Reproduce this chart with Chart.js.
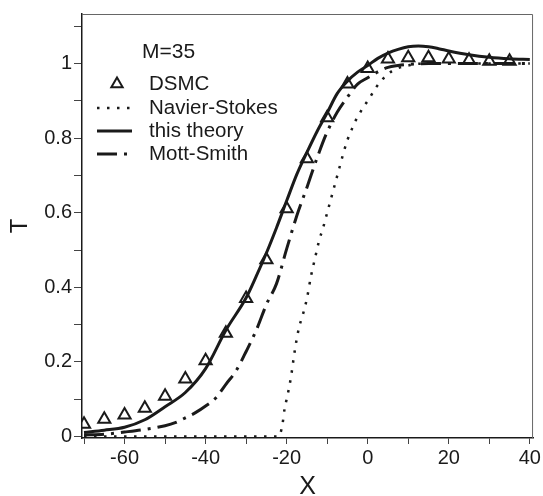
<!DOCTYPE html>
<html>
<head>
<meta charset="utf-8">
<script src="https://cdn.jsdelivr.net/npm/chart.js@4.4.0/dist/chart.umd.min.js"></script>
<style>
  html, body { margin: 0; padding: 0; background: #fff; }
  #wrap { width: 543px; height: 496px; }
</style>
</head>
<body>
<div id="wrap"><canvas id="chart" width="543" height="496"></canvas></div>
<script>
// ===================== DATA =====================
const machLabel = "M=35";

const dsmcX = [-70, -65, -60, -55, -50, -45, -40, -35, -30, -25, -20, -15, -10, -5, 0, 5, 10, 15, 20, 25, 30, 35];
const dsmcT = [0.033, 0.046, 0.058, 0.076, 0.108, 0.154, 0.203, 0.277, 0.370, 0.474, 0.611, 0.745, 0.855, 0.945, 0.987, 1.012, 1.016, 1.016, 1.012, 1.009, 1.006, 1.006];

const theoryX = [-70, -65, -60, -55, -50, -45, -40, -35, -30, -27.5, -25, -22.5, -20, -17.5, -15, -12.5, -10, -7.5, -5, -2.5, 0, 2.5, 5, 7.5, 10, 12.5, 15, 17.5, 20, 25, 30, 35, 40];
const theoryT = [0.011, 0.017, 0.025, 0.045, 0.080, 0.118, 0.182, 0.285, 0.372, 0.430, 0.492, 0.560, 0.632, 0.703, 0.762, 0.818, 0.868, 0.920, 0.953, 0.977, 0.995, 1.014, 1.028, 1.038, 1.045, 1.047, 1.045, 1.040, 1.034, 1.024, 1.017, 1.013, 1.011];

const mottX = [-70, -65, -60, -55, -50, -47.5, -45, -42.5, -40, -37.5, -35, -32.5, -30, -27.5, -25, -22.5, -20, -17.5, -15, -12.5, -10, -7.5, -5, -2.5, 0, 2.5, 5, 7.5, 10, 15, 40];
const mottT = [0.004, 0.006, 0.012, 0.019, 0.029, 0.037, 0.050, 0.064, 0.082, 0.103, 0.140, 0.176, 0.228, 0.285, 0.354, 0.410, 0.503, 0.592, 0.668, 0.747, 0.817, 0.870, 0.910, 0.945, 0.962, 0.978, 0.990, 0.995, 0.998, 1.000, 1.000];

const nsX = [-70, -40, -22, -21.5, -21, -20.5, -20, -19, -18, -17, -16, -15, -14, -13, -12, -11, -10, -9, -8, -7, -6, -5, -4, -3, -2, -1, 0, 2, 4, 6, 8, 10, 12, 15, 40];
const nsT = [0, 0, 0, 0.010, 0.035, 0.075, 0.100, 0.155, 0.230, 0.290, 0.327, 0.370, 0.430, 0.478, 0.525, 0.560, 0.600, 0.640, 0.680, 0.720, 0.760, 0.795, 0.822, 0.847, 0.866, 0.885, 0.900, 0.935, 0.962, 0.980, 0.990, 0.995, 0.999, 1.000, 1.000];

const xTicks = [-70, -60, -50, -40, -30, -20, -10, 0, 10, 20, 30, 40];
const xLabelled = [-60, -40, -20, 0, 20, 40];
const yTicks = [0, 0.1, 0.2, 0.3, 0.4, 0.5, 0.6, 0.7, 0.8, 0.9, 1.0, 1.1];
const yLabelled = [0, 0.2, 0.4, 0.6, 0.8, 1];

const legendNames = ["DSMC", "Navier-Stokes", "this theory", "Mott-Smith"];

// ===================== HELPERS =====================
function pts(xs, ys) {
  return xs.map((x, i) => ({ x, y: ys[i] }));
}

const INK = "#1a1a1a";
const FONT = "'Liberation Sans', Arial, Helvetica, sans-serif";

// frame (top/right edges) drawn over the plot
const framePlugin = {
  id: "frame",
  afterDraw(chart) {
    const { ctx, chartArea: a } = chart;
    ctx.save();
    ctx.strokeStyle = "#666";
    ctx.lineWidth = 1;
    ctx.beginPath();
    ctx.moveTo(a.left, a.top + 0.5);
    ctx.lineTo(a.right - 0.5, a.top + 0.5);
    ctx.lineTo(a.right - 0.5, a.bottom);
    ctx.stroke();
    ctx.restore();
  },
};

// legend inside the plot, styles taken from the datasets
const legendPlugin = {
  id: "innerLegend",
  afterDraw(chart) {
    const { ctx, chartArea: a } = chart;
    const ds = chart.data.datasets;
    const lineX0 = a.left + 15, lineX1 = a.left + 50, textX = a.left + 67;
    const rows = [a.top + 70, a.top + 94, a.top + 117, a.top + 140];
    ctx.save();
    ctx.fillStyle = INK;
    ctx.textBaseline = "middle";
    ctx.font = "21px " + FONT;
    ctx.fillText(machLabel, a.left + 60, a.top + 38);

    legendNames.forEach((name, i) => {
      const d = ds[i];
      const y = rows[i];
      ctx.strokeStyle = INK;
      if (d.showLine === false) {
        const r = 6.5, cx = a.left + 35;
        ctx.lineWidth = 2;
        ctx.beginPath();
        ctx.moveTo(cx, y - r);
        ctx.lineTo(cx + r * 0.87, y + r * 0.5);
        ctx.lineTo(cx - r * 0.87, y + r * 0.5);
        ctx.closePath();
        ctx.stroke();
      } else {
        ctx.lineWidth = d.borderWidth;
        ctx.setLineDash(d.borderDash || []);
        ctx.beginPath();
        ctx.moveTo(lineX0, y);
        ctx.lineTo(lineX1, y);
        ctx.stroke();
        ctx.setLineDash([]);
      }
      ctx.fillStyle = INK;
      ctx.font = "20.5px " + FONT;
      ctx.fillText(name, textX, y);
    });
    ctx.restore();
  },
};

// ===================== CHART =====================
const ctx = document.getElementById("chart");
new Chart(ctx, {
  type: "line",
  data: {
    datasets: [
      {
        label: legendNames[0],
        data: pts(dsmcX, dsmcT),
        showLine: false,
        pointStyle: "triangle",
        pointRadius: 7,
        pointBorderWidth: 2,
        pointBorderColor: INK,
        pointBackgroundColor: "rgba(0,0,0,0)",
        borderColor: INK,
      },
      {
        label: legendNames[1],
        data: pts(nsX, nsT),
        borderColor: INK,
        borderWidth: 2.5,
        borderDash: [2.5, 7.5],
        pointRadius: 0,
        cubicInterpolationMode: "monotone",
      },
      {
        label: legendNames[2],
        data: pts(theoryX, theoryT),
        borderColor: INK,
        borderWidth: 3,
        pointRadius: 0,
        cubicInterpolationMode: "monotone",
      },
      {
        label: legendNames[3],
        data: pts(mottX, mottT),
        borderColor: INK,
        borderWidth: 3,
        borderDash: [20, 7, 3, 7],
        pointRadius: 0,
        cubicInterpolationMode: "monotone",
      },
    ],
  },
  options: {
    responsive: false,
    animation: false,
    layout: { padding: { top: 9, right: 6, left: 0, bottom: 0 } },
    plugins: { legend: { display: false }, tooltip: { enabled: false } },
    scales: {
      x: {
        type: "linear",
        min: -70.5,
        max: 40.8,
        afterBuildTicks: (s) => { s.ticks = xTicks.map((v) => ({ value: v })); },
        afterFit: (s) => { s.height = 58; },
        border: { display: true, color: INK, width: 1.5 },
        grid: { drawOnChartArea: false, color: "#444", tickLength: 6 },
        ticks: {
          color: INK,
          font: { family: FONT, size: 20 },
          padding: 2,
          maxRotation: 0,
          autoSkip: false,
          callback: (v) => (xLabelled.includes(v) ? String(v) : ""),
        },
        title: { display: true, text: "X", color: INK, font: { family: FONT, size: 25, lineHeight: 0.7 }, padding: { top: 0, bottom: 0 } },
      },
      y: {
        type: "linear",
        min: -0.004,
        max: 1.133,
        afterBuildTicks: (s) => { s.ticks = yTicks.map((v) => ({ value: v })); },
        afterFit: (s) => { s.width = 82; },
        border: { display: true, color: INK, width: 1.5 },
        grid: { drawOnChartArea: false, color: "#444", tickLength: 8 },
        ticks: {
          color: INK,
          font: { family: FONT, size: 20 },
          padding: 2,
          autoSkip: false,
          callback: (v) => {
            const hit = yLabelled.find((t) => Math.abs(t - v) < 1e-6);
            return hit === undefined ? "" : String(hit);
          },
        },
        title: { display: true, text: "T", color: INK, font: { family: FONT, size: 24 }, padding: { top: 6, bottom: 0 } },
      },
    },
  },
  plugins: [framePlugin, legendPlugin],
});
</script>
</body>
</html>
